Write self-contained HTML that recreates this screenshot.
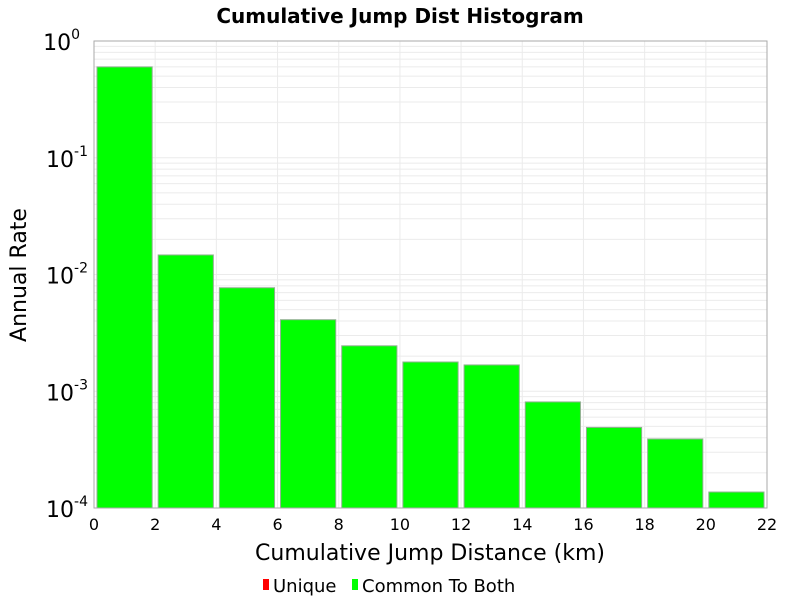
<!DOCTYPE html>
<html><head><meta charset="utf-8"><style>
body{margin:0;background:#fff;width:800px;height:600px;overflow:hidden;font-family:"DejaVu Sans","Liberation Sans",sans-serif}
</style></head><body>
<svg id="chart" width="800" height="600" xmlns="http://www.w3.org/2000/svg">
<text x="400" y="23" text-anchor="middle" font-size="20" font-weight="bold" font-family="DejaVu Sans, sans-serif">Cumulative Jump Dist Histogram</text>
<g id="grid"></g>
<g id="bars"></g>
<rect x="94" y="41" width="673" height="467" fill="none" stroke="#aaa" stroke-width="1"/>
<g id="xticks"></g>
<g id="yticks"></g>
<text x="430" y="560" text-anchor="middle" font-size="22" font-family="DejaVu Sans, sans-serif">Cumulative Jump Distance (km)</text>
<text transform="translate(26,275) rotate(-90)" text-anchor="middle" font-size="22" font-family="DejaVu Sans, sans-serif">Annual Rate</text>
<g>
<rect x="263" y="579" width="6" height="11" fill="#f00"/>
<text x="273" y="592" font-size="18" font-family="DejaVu Sans, sans-serif">Unique</text>
<rect x="352" y="579" width="6" height="11" fill="#0f0"/>
<text x="362" y="592" font-size="18" font-family="DejaVu Sans, sans-serif">Common To Both</text>
</g>
</svg>
<script>
const binStarts = [0,2,4,6,8,10,12,14,16,18,20];
const binWidth = 2;
const rates = [0.6,0.0147,0.0077,0.0041,0.00245,0.00178,0.00168,0.00081,0.00049,0.00039,0.000137];
const xTickLabels = [0,2,4,6,8,10,12,14,16,18,20,22];
const yExponents = [0,-1,-2,-3,-4];
const X0=94,X1=767,Y0=41,Y1=508,XMIN=0,XMAX=22,LMAX=0,LMIN=-4;
const NS="http://www.w3.org/2000/svg";
function xs(v){return X0+(v-XMIN)/(XMAX-XMIN)*(X1-X0);}
function ys(v){return Y0+(LMAX-Math.log10(v))/(LMAX-LMIN)*(Y1-Y0);}
function mk(t,a){const e=document.createElementNS(NS,t);for(const k in a)e.setAttribute(k,a[k]);return e;}
const grid=document.getElementById('grid');
for(let d=LMIN;d<LMAX;d++){for(let m=1;m<10;m++){const y=ys(m*Math.pow(10,d));
const l=mk('line',{x1:X0,x2:X1,y1:y,y2:y,stroke:'#ebebeb','stroke-width':1});


grid.appendChild(l);}}
xTickLabels.forEach(v=>{const x=xs(v);
const l=mk('line',{x1:x,x2:x,y1:Y0,y2:Y1,stroke:'#ebebeb','stroke-width':1});


grid.appendChild(l);
const t=mk('text',{x:x,y:530,'text-anchor':'middle','font-size':16});


t.textContent=v;document.getElementById('xticks').appendChild(t);});
const bars=document.getElementById('bars');
binStarts.forEach((s,i)=>{const x=xs(s)+3,w=xs(s+binWidth)-xs(s)-6,y=ys(rates[i]);
const r=mk('rect',{x:x,y:y,width:w,height:Y1-y,fill:'#00ff00',stroke:'#8fb08f','stroke-width':1});


bars.appendChild(r);});
yExponents.forEach(e=>{const y=ys(Math.pow(10,e));
const t=mk('text',{x:88,y:y+9,'text-anchor':'end','font-size':22});


t.innerHTML='10<tspan dy="-11" font-size="14">'+e+'</tspan>';
if(e===0){t.setAttribute('x',80);}
document.getElementById('yticks').appendChild(t);});
</script>
</body></html>
